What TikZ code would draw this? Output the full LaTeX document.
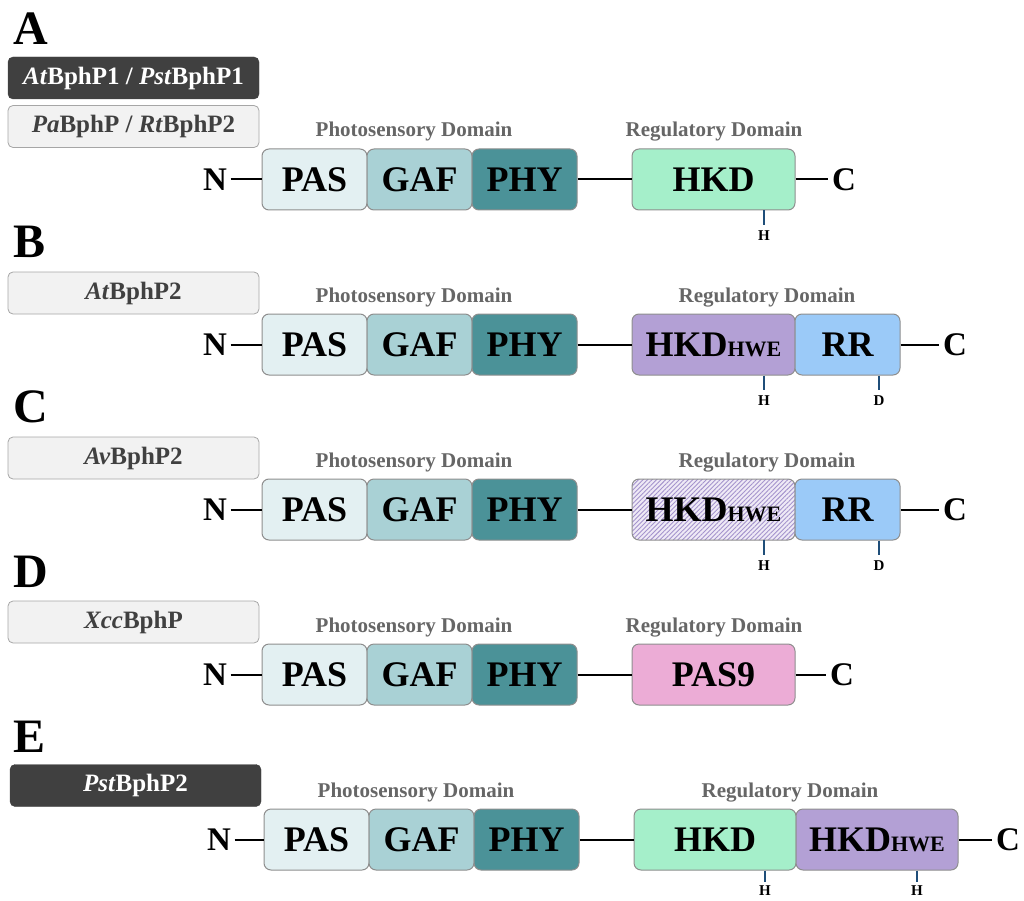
\documentclass[tikz,border=0pt]{standalone}
\usepackage{fontspec}
\setmainfont{Liberation Serif}
\usetikzlibrary{patterns.meta}
\newcommand\myfs[1]{\fontsize{#1}{#1}\selectfont}
\definecolor{pasc}{HTML}{E3F0F2}
\definecolor{gafc}{HTML}{A9D1D5}
\definecolor{phyc}{HTML}{4B9298}
\definecolor{hkdc}{HTML}{A5EFCA}
\definecolor{hwec}{HTML}{B3A0D5}
\definecolor{rrc}{HTML}{9BCAF8}
\definecolor{pasninec}{HTML}{ECACD6}
\definecolor{hatchbg}{HTML}{EFEAF6}
\definecolor{hatchln}{HTML}{A493CD}
\definecolor{edgec}{HTML}{8E8E8E}
\definecolor{darkc}{HTML}{404040}
\definecolor{lightc}{HTML}{F2F2F2}
\definecolor{lightedge}{HTML}{A6A6A6}
\definecolor{domc}{HTML}{666666}
\definecolor{tickc}{HTML}{1F4E79}
\begin{document}
\begin{tikzpicture}[x=1pt,y=-1pt,
  dom/.style={draw=edgec, line width=1pt, rounded corners=7pt, minimum height=61pt,
    minimum width=105pt, inner sep=0pt, font=\bfseries\myfs{36}},
  wide/.style={minimum width=163pt},
  lbldark/.style={fill=darkc, draw=darkc, text=white, rounded corners=5pt,
    minimum width=251pt, minimum height=42pt, inner sep=0pt, font=\bfseries\myfs{25}},
  lbllight/.style={fill=lightc, draw=lightedge, line width=0.8pt, text=darkc, rounded corners=5pt,
    minimum width=251pt, minimum height=42pt, inner sep=0pt, font=\bfseries\myfs{25}},
  letter/.style={anchor=base west, inner sep=0pt, font=\bfseries\myfs{48}},
  domlbl/.style={anchor=base, inner sep=0pt, text=domc, font=\bfseries\myfs{21}},
  term/.style={inner sep=3.5pt, font=\bfseries\myfs{33}},
  res/.style={inner xsep=0pt, inner ysep=6pt, font=\bfseries\myfs{15}},
  link/.style={line width=2pt, black},
  tick/.style={line width=1.5pt, tickc},
  hatched/.style={pattern={Lines[angle=45,distance=3.2pt,line width=0.9pt]},
    pattern color=hatchln, preaction={fill=hatchbg}}]
\useasboundingbox (0,0) rectangle (1024,901);

% ---------- A ----------
\node[letter] (letA) at (13,45) {A};
\node[lbldark] (tagA1) at (133.5,78) {\textit{At}BphP1 / \textit{Pst}BphP1};
\node[lbllight] (tagA2) at (133.5,126.5) {\textit{Pa}BphP / \textit{Rt}BphP2};
\node[domlbl] (psA) at (414,137) {Photosensory Domain};
\node[domlbl] (rgA) at (714,137) {Regulatory Domain};
\node[dom, fill=pasc] (pasA) at (314.5,179.5) {PAS};
\node[dom, fill=gafc] (gafA) at (419.5,179.5) {GAF};
\node[dom, fill=phyc] (phyA) at (524.5,179.5) {PHY};
\node[dom, wide, fill=hkdc] (hkdA) at (713.5,179.5) {HKD};
\node[term] (nA) at (215,179.5) {N};
\node[term] (cA) at (844,179.5) {C};
\node[res] (hA) at (764,236) {H};
\draw[link] (nA) -- (pasA);
\draw[link] (phyA) -- (hkdA);
\draw[link] (hkdA) -- (cA);
\draw[tick] (hkdA.south -| hA) -- (hA);

% ---------- B ----------
\node[letter] (letB) at (13,257) {B};
\node[lbllight] (tagB) at (133.5,293) {\textit{At}BphP2};
\node[domlbl] (psB) at (414,302) {Photosensory Domain};
\node[domlbl] (rgB) at (767,302) {Regulatory Domain};
\node[dom, fill=pasc] (pasB) at (314.5,344.5) {PAS};
\node[dom, fill=gafc] (gafB) at (419.5,344.5) {GAF};
\node[dom, fill=phyc] (phyB) at (524.5,344.5) {PHY};
\node[dom, wide, fill=hwec] (hweB) at (713.5,344.5) {HKD\myfs{22}HWE};
\node[dom, fill=rrc] (rrB) at (847.5,344.5) {RR};
\node[term] (nB) at (215,344.5) {N};
\node[term] (cB) at (955,344.5) {C};
\node[res] (hB) at (764,401) {H};
\node[res] (dB) at (879,401) {D};
\draw[link] (nB) -- (pasB);
\draw[link] (phyB) -- (hweB);
\draw[link] (rrB) -- (cB);
\draw[tick] (hweB.south -| hB) -- (hB);
\draw[tick] (rrB.south -| dB) -- (dB);

% ---------- C ----------
\node[letter] (letC) at (13,422) {C};
\node[lbllight] (tagC) at (133.5,458) {\textit{Av}BphP2};
\node[domlbl] (psC) at (414,467) {Photosensory Domain};
\node[domlbl] (rgC) at (767,467) {Regulatory Domain};
\node[dom, fill=pasc] (pasC) at (314.5,509.5) {PAS};
\node[dom, fill=gafc] (gafC) at (419.5,509.5) {GAF};
\node[dom, fill=phyc] (phyC) at (524.5,509.5) {PHY};
\node[dom, wide, hatched] (hweC) at (713.5,509.5) {HKD\myfs{22}HWE};
\node[dom, fill=rrc] (rrC) at (847.5,509.5) {RR};
\node[term] (nC) at (215,509.5) {N};
\node[term] (cC) at (955,509.5) {C};
\node[res] (hC) at (764,566) {H};
\node[res] (dC) at (879,566) {D};
\draw[link] (nC) -- (pasC);
\draw[link] (phyC) -- (hweC);
\draw[link] (rrC) -- (cC);
\draw[tick] (hweC.south -| hC) -- (hC);
\draw[tick] (rrC.south -| dC) -- (dC);

% ---------- D ----------
\node[letter] (letD) at (13,587) {D};
\node[lbllight] (tagD) at (133.5,622) {\textit{Xcc}BphP};
\node[domlbl] (psD) at (414,632) {Photosensory Domain};
\node[domlbl] (rgD) at (714,632) {Regulatory Domain};
\node[dom, fill=pasc] (pasD) at (314.5,674.5) {PAS};
\node[dom, fill=gafc] (gafD) at (419.5,674.5) {GAF};
\node[dom, fill=phyc] (phyD) at (524.5,674.5) {PHY};
\node[dom, wide, fill=pasninec] (pasnD) at (713.5,674.5) {PAS9};
\node[term] (nD) at (215,674.5) {N};
\node[term] (cD) at (842,674.5) {C};
\draw[link] (nD) -- (pasD);
\draw[link] (phyD) -- (pasnD);
\draw[link] (pasnD) -- (cD);

% ---------- E ----------
\node[letter] (letE) at (13,752) {E};
\node[lbldark] (tagE) at (135.5,785.5) {\textit{Pst}BphP2};
\node[domlbl] (psE) at (416,797) {Photosensory Domain};
\node[domlbl] (rgE) at (790,797) {Regulatory Domain};
\node[dom, fill=pasc] (pasE) at (316.5,839.5) {PAS};
\node[dom, fill=gafc] (gafE) at (421.5,839.5) {GAF};
\node[dom, fill=phyc] (phyE) at (526.5,839.5) {PHY};
\node[dom, fill=hkdc, minimum width=162pt] (hkdE) at (715,839.5) {HKD};
\node[dom, fill=hwec, minimum width=162pt] (hweE) at (877,839.5) {HKD\myfs{22}HWE};
\node[term] (nE) at (219,839.5) {N};
\node[term] (cE) at (1008,839.5) {C};
\node[res, inner ysep=4pt] (hE1) at (765,891) {H};
\node[res, inner ysep=4pt] (hE2) at (917,891) {H};
\draw[link] (nE) -- (pasE);
\draw[link] (phyE) -- (hkdE);
\draw[link] (hweE) -- (cE);
\draw[tick] (hkdE.south -| hE1) -- (hE1);
\draw[tick] (hweE.south -| hE2) -- (hE2);
\end{tikzpicture}
\end{document}
